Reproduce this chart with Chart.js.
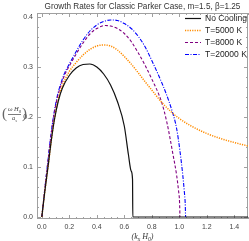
<!DOCTYPE html>
<html>
<head>
<meta charset="utf-8">
<script src="https://cdn.jsdelivr.net/npm/chart.js@4.4.1/dist/chart.umd.min.js"></script>
<style>
  html, body { margin: 0; padding: 0; background: #fff; }
</style>
</head>
<body>
<canvas id="chart" width="249" height="241"></canvas>
<script>
const titleText = 'Growth Rates for Classic Parker Case, m=1.5, \u03b2=1.25';
const seriesNames = ['No Cooling', 'T=5000 K', 'T=8000 K', 'T=20000 K'];

// wavenumber k_x H0 and growth rate
const kNoCooling = [0, 0.02, 0.045, 0.07, 0.092, 0.12, 0.15, 0.2, 0.25, 0.3, 0.35, 0.4, 0.45, 0.5, 0.55, 0.6, 0.63, 0.65, 0.66, 0.662, 1.5];
const gNoCooling = [0, 0.047, 0.1, 0.155, 0.195, 0.232, 0.258, 0.283, 0.298, 0.305, 0.306, 0.300, 0.286, 0.264, 0.231, 0.182, 0.125, 0.092, 0.075, 0, 0];

const k5000 = [0, 0.02, 0.045, 0.07, 0.092, 0.12, 0.15, 0.2, 0.25, 0.3, 0.35, 0.4, 0.45, 0.5, 0.55, 0.6, 0.65, 0.7, 0.75, 0.8, 0.87, 0.95, 1.0, 1.08, 1.2, 1.3, 1.4, 1.5];
const g5000 = [0, 0.047, 0.1, 0.155, 0.197, 0.236, 0.263, 0.291, 0.309, 0.324, 0.335, 0.342, 0.344, 0.342, 0.334, 0.321, 0.306, 0.289, 0.271, 0.254, 0.23, 0.208, 0.197, 0.183, 0.167, 0.157, 0.149, 0.142];

const k8000 = [0, 0.02, 0.04, 0.06, 0.08, 0.1, 0.12, 0.16, 0.2, 0.25, 0.3, 0.35, 0.4, 0.46, 0.5, 0.55, 0.6, 0.65, 0.7, 0.75, 0.8, 0.87, 0.91, 0.955, 0.98, 0.995, 1.002, 1.005];
const g8000 = [0, 0.052, 0.1, 0.148, 0.19, 0.222, 0.246, 0.28, 0.302, 0.326, 0.348, 0.366, 0.377, 0.383, 0.382, 0.377, 0.367, 0.351, 0.329, 0.304, 0.276, 0.231, 0.189, 0.124, 0.085, 0.052, 0.03, 0];

const k20000 = [0, 0.02, 0.04, 0.06, 0.08, 0.1, 0.12, 0.16, 0.2, 0.25, 0.3, 0.35, 0.4, 0.45, 0.5, 0.55, 0.6, 0.65, 0.7, 0.75, 0.8, 0.85, 0.9, 0.95, 0.98, 1.005, 1.025, 1.037, 1.043, 1.046];
const g20000 = [0, 0.052, 0.101, 0.15, 0.192, 0.225, 0.25, 0.284, 0.306, 0.331, 0.354, 0.372, 0.384, 0.391, 0.394, 0.393, 0.387, 0.377, 0.362, 0.341, 0.313, 0.283, 0.25, 0.21, 0.178, 0.132, 0.085, 0.05, 0.028, 0];

const xTicks = [0, 0.2, 0.4, 0.6, 0.8, 1.0, 1.2, 1.4];
const xTickLabels = ['0.0', '0.2', '0.4', '0.6', '0.8', '1.0', '1.2', '1.4'];
const yTicks = [0, 0.1, 0.2, 0.3, 0.4];
const yTickLabels = ['0.0', '0.1', '0.2', '0.3', '0.4'];
const xMinor = [0.05, 0.1, 0.15, 0.25, 0.3, 0.35, 0.45, 0.5, 0.55, 0.65, 0.7, 0.75, 0.85, 0.9, 0.95, 1.05, 1.1, 1.15, 1.25, 1.3, 1.35, 1.45, 1.5];
const yMinor = [0.02, 0.04, 0.06, 0.08, 0.12, 0.14, 0.16, 0.18, 0.22, 0.24, 0.26, 0.28, 0.32, 0.34, 0.36, 0.38];

const toPoints = (xs, ys) => xs.map((x, i) => ({ x: x, y: ys[i] }));

// frame with inward ticks, Mathematica style
const framePlugin = {
  id: 'frame',
  beforeDatasetsDraw(chart) {
    const { ctx, chartArea: a, scales: { x, y } } = chart;
    ctx.save();
    ctx.strokeStyle = '#a0a0a0';
    ctx.lineWidth = 1;
    ctx.strokeRect(a.left + 0.5, a.top + 0.5, a.right - a.left - 1, a.bottom - a.top - 1);
    const tick = (px, len, vertical) => {
      const p = Math.round(px) + 0.5;
      ctx.beginPath();
      if (vertical) {
        ctx.moveTo(p, a.bottom); ctx.lineTo(p, a.bottom - len);
        ctx.moveTo(p, a.top); ctx.lineTo(p, a.top + len);
      } else {
        ctx.moveTo(a.left, p); ctx.lineTo(a.left + len, p);
        ctx.moveTo(a.right, p); ctx.lineTo(a.right - len, p);
      }
      ctx.stroke();
    };
    xTicks.forEach(v => tick(x.getPixelForValue(v), 4, true));
    xMinor.forEach(v => tick(x.getPixelForValue(v), 2, true));
    yTicks.forEach(v => tick(y.getPixelForValue(v), 4, false));
    yMinor.forEach(v => tick(y.getPixelForValue(v), 2, false));
    ctx.restore();
  }
};

function drawRich(ctx, parts, cx, cy, size) {
  const fontMain = 'italic ' + size + 'px "Liberation Serif"';
  const fontSub = 'italic ' + (size * 0.7) + 'px "Liberation Serif"';
  let w = 0;
  parts.forEach(p => { ctx.font = p.sub ? fontSub : fontMain; w += ctx.measureText(p.t).width; });
  let px = cx - w / 2;
  ctx.textAlign = 'left';
  ctx.textBaseline = 'middle';
  parts.forEach(p => {
    ctx.font = p.sub ? fontSub : fontMain;
    ctx.fillText(p.t, px, cy + (p.sub ? size * 0.3 : 0));
    px += ctx.measureText(p.t).width;
  });
}

const labelsPlugin = {
  id: 'labels',
  afterDraw(chart) {
    const { ctx, chartArea: a } = chart;
    ctx.save();
    // title
    ctx.fillStyle = '#333';
    ctx.font = '8.2px "Liberation Sans"';
    ctx.textAlign = 'center';
    ctx.textBaseline = 'middle';
    ctx.fillText(titleText, (a.left + a.right) / 2, 6.5);

    // legend
    const rows = [18.5, 30.5, 42.5, 54.5];
    chart.data.datasets.forEach((ds, i) => {
      ctx.save();
      ctx.strokeStyle = ds.borderColor;
      ctx.lineWidth = ds.borderWidth;
      ctx.setLineDash(ds.borderDash || []);
      ctx.beginPath();
      ctx.moveTo(185, rows[i]);
      ctx.lineTo(201, rows[i]);
      ctx.stroke();
      ctx.restore();
      ctx.fillStyle = '#222';
      ctx.font = '8.5px "Liberation Sans"';
      ctx.textAlign = 'left';
      ctx.textBaseline = 'middle';
      ctx.fillText(ds.label, 205, rows[i]);
    });

    // x axis title
    ctx.fillStyle = '#333';
    drawRich(ctx, [{ t: '(' }, { t: 'k' }, { t: 'x', sub: true }, { t: ' H' }, { t: '0', sub: true }, { t: ')' }], (a.left + a.right) / 2, 237, 8);

    // y axis title: (omega H0 / a_s)
    const cy = 114;
    ctx.fillStyle = '#444';
    drawRich(ctx, [{ t: '\u03c9 H' }, { t: '0', sub: true }], 14.5, cy - 4.5, 6.5);
    drawRich(ctx, [{ t: 'a' }, { t: 's', sub: true }], 14.5, cy + 4.5, 6.5);
    ctx.strokeStyle = '#444';
    ctx.lineWidth = 0.7;
    ctx.beginPath();
    ctx.moveTo(8, cy + 0.5);
    ctx.lineTo(21, cy + 0.5);
    ctx.stroke();
    ctx.fillStyle = '#666';
    ctx.font = '15px "Liberation Serif"';
    ctx.textAlign = 'center';
    ctx.textBaseline = 'middle';
    ctx.fillText('(', 4.5, cy);
    ctx.fillText(')', 24.5, cy);
    ctx.restore();
  }
};

const lineStyle = (color, dash, width) => ({
  borderColor: color,
  borderDash: dash,
  borderWidth: width,
  pointRadius: 0,
  fill: false,
  cubicInterpolationMode: 'monotone'
});

new Chart(document.getElementById('chart'), {
  type: 'line',
  data: {
    datasets: [
      { label: seriesNames[0], data: toPoints(kNoCooling, gNoCooling), ...lineStyle('#111', [], 1.2) },
      { label: seriesNames[1], data: toPoints(k5000, g5000), ...lineStyle('#ff8c00', [1.2, 1.2], 1.5) },
      { label: seriesNames[2], data: toPoints(k8000, g8000), ...lineStyle('#800080', [3, 2], 1.1) },
      { label: seriesNames[3], data: toPoints(k20000, g20000), ...lineStyle('#0000ff', [4, 1.5, 1, 1.5], 1.1) }
    ]
  },
  options: {
    responsive: false,
    animation: false,
    devicePixelRatio: 1,
    layout: { padding: { top: 13, right: 1, left: 0, bottom: 0 } },
    plugins: { legend: { display: false }, tooltip: { enabled: false }, title: { display: false } },
    scales: {
      x: {
        type: 'linear',
        min: -0.035,
        max: 1.5,
        grid: { display: false, drawTicks: false },
        border: { display: false },
        afterBuildTicks: s => { s.ticks = xTicks.map(v => ({ value: v })); },
        afterFit: s => { s.height = 22; },
        ticks: {
          font: { size: 7, family: 'Liberation Sans' },
          color: '#444',
          padding: 4,
          maxRotation: 0,
          autoSkip: false,
          callback: v => xTickLabels[xTicks.indexOf(v)]
        }
      },
      y: {
        min: -0.004,
        max: 0.408,
        grid: { display: false, drawTicks: false },
        border: { display: false },
        afterBuildTicks: s => { s.ticks = yTicks.map(v => ({ value: v })); },
        afterFit: s => { s.width = 37; },
        ticks: {
          font: { size: 7, family: 'Liberation Sans' },
          color: '#444',
          padding: 4,
          autoSkip: false,
          callback: v => yTickLabels[yTicks.indexOf(v)]
        }
      }
    }
  },
  plugins: [framePlugin, labelsPlugin]
});
</script>
</body>
</html>
